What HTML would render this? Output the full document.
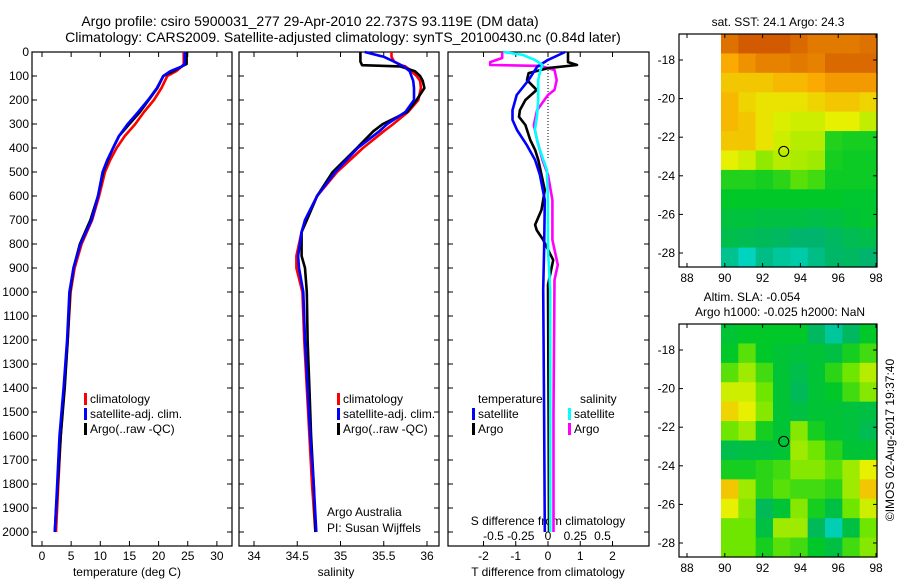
<!DOCTYPE html>
<html><head><meta charset="utf-8"><style>
html,body{margin:0;padding:0;background:#fff;}
svg{display:block;font-family:"Liberation Sans",sans-serif;}
</style></head><body>
<svg id="c" width="900" height="580" viewBox="0 0 900 580">
<text x="310" y="26" font-size="14" text-anchor="middle">Argo profile: csiro 5900031_277 29-Apr-2010 22.737S 93.119E (DM data)</text>
<text x="343" y="42" font-size="14" text-anchor="middle">Climatology: CARS2009. Satellite-adjusted climatology: synTS_20100430.nc (0.84d later)</text>
<text x="778" y="26" font-size="12" text-anchor="middle">sat. SST: 24.1  Argo: 24.3</text>
<text x="752" y="301" font-size="12" text-anchor="middle">Altim. SLA: -0.054</text>
<text x="780" y="316" font-size="12" text-anchor="middle">Argo h1000: -0.025 h2000: NaN</text>
<text x="0" y="0" font-size="12" text-anchor="middle" transform="translate(894,440) rotate(-90)">©IMOS 02-Aug-2017 19:37:40</text>
<text x="127" y="576" font-size="12" text-anchor="middle">temperature (deg C)</text>
<text x="336" y="576" font-size="12" text-anchor="middle">salinity</text>
<text x="548" y="576" font-size="12" text-anchor="middle">T difference from climatology</text>
<text x="548" y="525" font-size="12" text-anchor="middle">S difference from climatology</text>
<text x="327" y="516" font-size="12">Argo Australia</text>
<text x="327" y="532" font-size="12">PI: Susan Wijffels</text>
</svg>
<script>
// ---- profile data ----
const tDepth=[0,20,50,60,80,100,150,200,250,300,350,400,450,500,600,700,800,900,1000,1200,1400,1600,1800,2000];
const tArgo=[24.7,24.8,24.8,24,22.5,20.8,19.8,18.3,16.8,15.0,13.2,12.2,11.3,10.5,9.6,8.3,6.5,5.4,4.8,4.4,3.9,3.2,2.7,2.2];
const tClim=[24.3,24.3,24.3,24,23,21.5,20.5,19.2,17.5,16.0,14.2,12.8,11.7,10.8,9.8,8.6,6.8,5.6,4.9,4.4,3.8,3.2,2.8,2.4];
const tSat=[24.5,24.5,24.5,24,22,20.8,19.7,18.2,16.5,14.7,13.2,12.2,11.2,10.4,9.6,8.5,6.6,5.4,4.7,4.3,3.7,3.0,2.6,2.2];
const sDepth=[0,20,40,55,60,80,100,120,150,200,250,300,330,400,500,600,700,750,850,900,1000,1200,1400,1600,1800,2000];
const sArgo=[35.23,35.23,35.23,35.25,35.69,35.86,35.92,35.95,35.97,35.88,35.77,35.49,35.38,35.19,34.91,34.73,34.61,34.55,34.55,34.59,34.61,34.62,34.64,34.66,34.69,34.71];
const sClim=[35.59,35.59,35.62,35.7,35.75,35.82,35.88,35.92,35.93,35.90,35.78,35.61,35.5,35.26,34.96,34.73,34.61,34.55,34.49,34.49,34.56,34.58,34.61,34.64,34.67,34.71];
const sSat=[35.28,35.5,35.62,35.7,35.73,35.8,35.82,35.84,35.85,35.85,35.75,35.54,35.45,35.2,34.94,34.73,34.59,34.55,34.51,34.52,34.57,34.59,34.62,34.65,34.69,34.72];
const dtSatDepth=[0,33,62,117,179,242,283,325,387,450,512,617,825,990,1500,2000];
const dtSat=[0.53,0,-0.34,-0.6,-0.97,-1.1,-1.1,-0.96,-0.66,-0.4,-0.25,-0.1,-0.12,-0.15,-0.12,-0.1];
const dtArgoDepth=[0,42,54,67,88,117,158,200,242,270,304,367,408,450,575,658,720,742,783,867,970,1500,2000];
const dtArgo=[0.62,0.62,0.9,0,-0.6,-0.65,-0.35,-0.7,-0.87,-0.9,-0.7,-0.55,-0.4,-0.3,-0.1,-0.2,-0.4,-0.35,-0.15,0.16,0,0.02,0.03];
const dsArgoDepth=[0,25,42,54,58,75,117,158,179,242,304,367,450,512,617,783,887,950,1500,1900,2000];
const dsArgo=[-0.42,-0.42,-0.53,-0.53,-0.07,0.06,0.08,0.06,0,-0.1,-0.13,-0.1,-0.05,0,0.04,0.04,0.09,0.06,0.05,0.05,0.05];
const dsSatDepth=[0,12,33,54,75,117,200,262,325,387,492,617,825,990,2000];
const dsSat=[-0.41,-0.23,-0.12,-0.05,-0.07,-0.09,-0.09,-0.1,-0.12,-0.09,-0.01,0,0,0.02,0.02];
// ---- tick labels ----
const depthTicks=[0,100,200,300,400,500,600,700,800,900,1000,1100,1200,1300,1400,1500,1600,1700,1800,1900,2000];
const tTicks=[0,5,10,15,20,25,30];
const sTicks=[34,34.5,35,35.5,36];
const dtTicks=[-2,-1,0,1,2];
const dsTicks=[-0.5,-0.25,0,0.25,0.5];
const dsTickLabels=['-0.5','-0.25','0','0.25','0.5'];
const lonTicks=[88,90,92,94,96,98];
const latTicks=[-18,-20,-22,-24,-26,-28];
// ---- map grids (9 lon cols x 12 lat rows, colormap index 0..6) ----
const sstGrid=[
[5.7,6,6,6,5.8,5.6,5.6,5.6,5.7],
[5,5.3,5.5,5.5,5.6,5.5,5.8,5.8,5.8],
[4.6,4.6,4.6,4.8,4.8,5,5.2,5.2,5.2],
[4.8,4.4,4.2,4.2,4.2,4.4,4.6,4.6,4.4],
[4.8,4.6,4.2,3.9,3.8,3.8,4,4,3.7],
[4.6,4.6,4.2,3.8,3.6,3.6,2.3,2.2,2.2],
[4,3.8,3.3,3.6,3.5,3.4,2.2,2.1,2.1],
[2.3,2.3,2.2,2.4,2.8,2.6,2.1,2.1,2.1],
[2,2,2,2,2,2,2,1.9,1.9],
[1.7,1.7,1.6,1.6,1.6,1.5,1.6,1.8,1.9],
[1.5,1.4,1.3,1.2,1,1,1.2,1.4,1.5],
[0.7,0.3,0.8,0.6,0.5,0.8,1.1,1.2,1.0]];
const slaGrid=[
[1.8,2,2,2,2,1.2,0.6,1.2,2],
[2,2.8,2,1.8,1.7,1.8,1.6,2.2,2.6],
[2.8,3.4,2.6,1.8,1.5,1.8,2.4,3,3.6],
[3.8,3.8,3,1.8,1.3,1.8,2,2.6,3.2],
[4.4,4,3.2,1.8,1.6,1.8,1.8,1.7,1.6],
[3,3.4,2.2,1.8,3.2,2.2,1.8,1.7,1.4],
[1.5,1.6,1.6,1.8,3.4,3,2.4,1.8,1.8],
[2.2,2.2,2.4,2.6,3.2,3.2,2.8,3.4,4],
[4.6,3.4,2.4,2.8,2.6,2.6,2.4,3.4,4.6],
[4,3.2,1.3,1.8,3.2,2.2,1.6,3,3.8],
[3,3,1.6,3.4,3.4,1.3,0.4,1.6,3],
[3,3,2.2,2.8,2.6,2,1.6,2.6,3.2]];
const argoLon=93.119, argoLat=-22.737;

const NS='http://www.w3.org/2000/svg';
const svg=document.getElementById('c');
function mk(tag,attrs,parent){const e=document.createElementNS(NS,tag);for(const k in attrs)e.setAttribute(k,attrs[k]);(parent||svg).appendChild(e);return e;}
const yD=d=>52+d*0.24;
const xT=t=>42+t*5.83;
const xS=s=>254+(s-34)*86.5;
const xDT=t=>548+t*32.25;
const xDS=s=>548+s*109;
const BOT=546;
const panels=[[32,232],[239,439],[448,649]];
panels.forEach((p,i)=>{
  const r=mk('rect',{x:p[0],y:52,width:p[1]-p[0],height:BOT-52,fill:'none',stroke:'#000','stroke-width':1.2});
  
  
  depthTicks.forEach(d=>{
    const y=yD(d);
    const t1=mk('line',{x1:p[0],x2:p[0]+5,y1:y,y2:y,stroke:'#000'});
    
    
    const t2=mk('line',{x1:p[1]-5,x2:p[1],y1:y,y2:y,stroke:'#000'});
    
    
  });
});
depthTicks.forEach(d=>{
  const t=mk('text',{x:29,y:yD(d)+4,'font-size':12,'text-anchor':'end'});
  t.textContent=d;
  
  
});
function xticks(vals,labels,fx,ly){
  vals.forEach((v,i)=>{
    const x=fx(v);
    const a=mk('line',{x1:x,x2:x,y1:BOT,y2:BOT-5,stroke:'#000'});
    
    
    const b=mk('line',{x1:x,x2:x,y1:52,y2:57,stroke:'#000'});
    
    
    if(ly){const t=mk('text',{x:x,y:ly,'font-size':12,'text-anchor':'middle'});
    t.textContent=labels[i];
    
    }
  });
}
xticks(tTicks,tTicks,xT,560);
xticks(sTicks,sTicks,xS,560);
xticks(dtTicks,dtTicks,xDT,560);
dsTicks.forEach((v,i)=>{const t=mk('text',{x:xDS(v),y:540,'font-size':12,'text-anchor':'middle'});
  t.textContent=dsTickLabels[i];
  
  });
const z=mk('line',{x1:xDT(0),x2:xDT(0),y1:yD(50),y2:yD(450),stroke:'#000','stroke-dasharray':'1,2'});


function line(depths,vals,fx,color,name){
  const pts=depths.map((d,i)=>fx(vals[i]).toFixed(1)+','+yD(d).toFixed(1)).join(' ');
  const p=mk('polyline',{points:pts,fill:'none',stroke:color,'stroke-width':2.6,'stroke-linejoin':'round'});
  
  
}
line(tDepth,tClim,xT,'#ff0000','temp-climatology-line');
line(tDepth,tArgo,xT,'#000','temp-argo-line');
line(tDepth,tSat,xT,'#0000ff','temp-satellite-line');
line(sDepth,sClim,xS,'#ff0000','sal-climatology-line');
line(sDepth,sArgo,xS,'#000','sal-argo-line');
line(sDepth,sSat,xS,'#0000ff','sal-satellite-line');
line(dsArgoDepth,dsArgo,xDS,'#ff00ff','s-diff-argo-line');
line(dtArgoDepth,dtArgo,xDT,'#000','t-diff-argo-line');
line(dtSatDepth,dtSat,xDT,'#0000ff','t-diff-satellite-line');
line(dsSatDepth,dsSat,xDS,'#00ffff','s-diff-satellite-line');
function leg(x,y,color,label,name){
  const r=mk('rect',{x:x,y:y-9,width:3,height:12,fill:color});
  
  
  const t=mk('text',{x:x+6,y:y+1,'font-size':12});
  t.textContent=label;
  
  
}
[[32,84],[239,337]].forEach((p,i)=>{
  leg(p[1],402,'#ff0000','climatology','legend-climatology-'+(i+1));
  leg(p[1],417,'#0000ff','satellite-adj. clim.','legend-satellite-'+(i+1));
  leg(p[1],432,'#000','Argo(..raw -QC)','legend-argo-'+(i+1));
});
const lt=mk('text',{x:478,y:403,'font-size':12});lt.textContent='temperature';


const ls=mk('text',{x:580,y:403,'font-size':12});ls.textContent='salinity';


leg(472,417,'#0000ff','satellite','legend-t-satellite');
leg(472,432,'#000','Argo','legend-t-argo');
leg(568,417,'#00ffff','satellite','legend-s-satellite');
leg(568,432,'#ff00ff','Argo','legend-s-argo');
const stops=[[0,225,225],[0,180,110],[0,200,40],[110,230,0],[230,240,0],[250,170,0],[210,90,0]];
function cmap(v){v=Math.max(0,Math.min(6,v));const i=Math.min(5,Math.floor(v)),f=v-i;const a=stops[i],b=stops[i+1];
  return 'rgb('+a.map((c,k)=>Math.round(c+(b[k]-c)*f)).join(',')+')';}
const lonX=l=>687+(l-88)*18.9;
function drawMap(grid,off,name){
  const top=34+off,bot=267+off,left=679,right=877,dl=721;
  const latY=l=>60+off+(-18-l)*19.3;
  const rows=grid.length,cols=grid[0].length;
  const cw=(right-dl)/cols,ch=(bot-top)/rows;
  grid.forEach((row,r)=>row.forEach((v,c)=>{
    const e=mk('rect',{x:(dl+c*cw).toFixed(2),y:(top+r*ch).toFixed(2),width:(cw+0.6).toFixed(2),height:(ch+0.6).toFixed(2),fill:cmap(v)});
    
    
  }));
  const f=mk('rect',{x:left,y:top,width:right-left,height:bot-top,fill:'none',stroke:'#000','stroke-width':1.2});
  
  
  lonTicks.forEach(l=>{const x=lonX(l);
    const a=mk('line',{x1:x,x2:x,y1:bot,y2:bot-4,stroke:'#000'});
    
    
    const b=mk('line',{x1:x,x2:x,y1:top,y2:top+4,stroke:'#000'});
    
    
    const t=mk('text',{x:x,y:bot+15,'font-size':12,'text-anchor':'middle'});t.textContent=l;
    
    });
  latTicks.forEach(l=>{const y=latY(l);
    const a=mk('line',{x1:left,x2:left+4,y1:y,y2:y,stroke:'#000'});
    
    
    const b=mk('line',{x1:right-4,x2:right,y1:y,y2:y,stroke:'#000'});
    
    
    const t=mk('text',{x:675,y:y+4,'font-size':12,'text-anchor':'end'});t.textContent=l;
    
    });
  const c=mk('circle',{cx:lonX(argoLon),cy:latY(argoLat),r:5,fill:'none',stroke:'#000','stroke-width':1});
  
  
}
drawMap(sstGrid,0,'sst-map');
drawMap(slaGrid,290,'sla-map');
</script>
</body></html>
